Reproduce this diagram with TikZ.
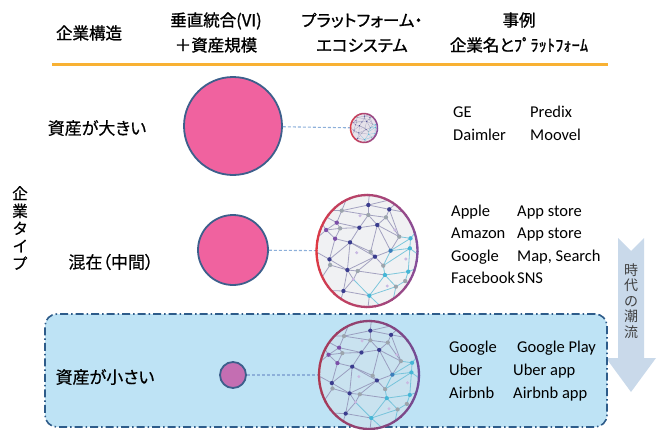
\documentclass[tikz,border=0pt]{standalone}
\usepackage{fontspec}
\setmainfont{Noto Sans CJK JP}[RawFeature=+palt]
\newfontfamily\jphead{Noto Sans CJK JP}[RawFeature=+palt, FakeBold=1.1]
\newfontfamily\jplabel{Noto Sans CJK JP}[RawFeature=+palt, FakeBold=0.5]
\newfontfamily\latinfont{Carlito}
\usetikzlibrary{shapes.geometric}

\definecolor{rulegold}{HTML}{F8B133}
\definecolor{pinkfill}{HTML}{F0629F}
\definecolor{mauve}{HTML}{C46EB2}
\definecolor{ringblue}{HTML}{3D5F8C}
\definecolor{linkblue}{HTML}{8DB0DA}
\definecolor{boxfill}{HTML}{BEE3F5}
\definecolor{boxedge}{HTML}{2E5C8A}
\definecolor{trend}{HTML}{C9D9EA}
\definecolor{trendtext}{HTML}{404040}
\definecolor{navy}{HTML}{3A3C8E}
\definecolor{violet}{HTML}{7B4FA8}
\definecolor{steel}{HTML}{3C7DBA}
\definecolor{cyanpt}{HTML}{45B6D6}
\definecolor{graypt}{HTML}{9CA5AD}
\definecolor{lilac}{HTML}{C9B9E2}
\definecolor{netgray}{HTML}{8A88B0}
\definecolor{netcyan}{HTML}{62BCD6}
\definecolor{ecofillA}{HTML}{E6E2EA}
\definecolor{ecofillB}{HTML}{F0F1F3}
\definecolor{ecofillC}{HTML}{C9E2EF}
\definecolor{ringL}{HTML}{E2383F}
\definecolor{ringR}{HTML}{7E4FA0}

% points of the network pattern (local frame, centre 201/213)
\newcommand\netpoints{%
  \foreach \pn/\px/\py in {a/205/75,b/268/88,c/110/128,d/178/143,e/232/135,
    f/78/150,g/105/176,h/150/187,i/272/212,j/225/230,k/88/238,l/142/270,
    m/332/175,n/330/205,o/130/333,p/208/347,q/125/92,r/205/105,s/258/112,
    t/120/145,u/298/170,w/212/215,x/90/255,y/173/273,z/250/257,A/288/320,
    B/316/303,C/325/275,D/255/285,E/160/298,F/150/30,G/310/50,H/20/200,
    I/40/330,J/385/110,K/390/250,Lo/270/405,M/110/400,N/40/90,O/385/350,
    P/210/20,Q/200/420,R/180/107,S/170/218,T/318/237,U/262/318,V/285/150}
    \coordinate (p-\pn) at (\px,\py);}

% network inside an ellipse with a red-to-purple rim
% #1,#2 centre, #3,#4 radii, #5 fill, #6 edge width, #7 rim width
\newcommand\econet[7]{%
  \fill[#5] (#1,#2) ellipse[x radius=#3, y radius=#4];
  \begin{scope}
    \clip (#1,#2) ellipse[x radius=#3, y radius=#4];
    \begin{scope}[shift={(#1,#2)}, xscale=#3/152, yscale=#4/168, shift={(-201,-213)}]
      \netpoints
      \foreach \na/\nb in {a/b,a/r,a/q,a/P,a/G,b/s,b/G,b/J,b/u,q/c,q/F,q/N,q/r,
        r/d,r/e,r/s,s/e,s/u,e/d,e/u,e/i,e/w,d/c,d/t,d/h,c/t,c/f,c/N,f/g,f/t,
        f/H,f/N,g/t,g/h,g/k,h/w,h/j,h/k,h/l,j/w,j/i,j/z,j/y,j/l,i/u,E/y,E/o,
        E/l,y/l,o/l,o/M,o/I,l/x,x/k,x/I,k/H,k/l,I/M,y/D,p/o,p/Q,F/P}
        \draw[netgray, opacity=0.75, line width=#6] (p-\na) -- (p-\nb);
      \foreach \na/\nb in {i/m,i/n,i/z,m/u,m/J,m/n,n/K,n/C,n/z,C/B,C/K,C/D,
        z/D,D/A,D/p,B/A,B/O,A/p,A/Lo,p/Lo,p/E}
        \draw[netcyan, opacity=0.8, line width=#6] (p-\na) -- (p-\nb);
      \foreach \pn in {E,R,S,T,U,V} \fill[lilac] (p-\pn) circle[radius=5];
      \foreach \pn in {q,r,s,t,u,w,x,y,z,A,B} \fill[graypt] (p-\pn) circle[radius=6.5];
      \foreach \pn in {a,b,d,e,h,j,k,l,o} \fill[navy] (p-\pn) circle[radius=6.5];
      \foreach \pn in {c,f,g} \fill[violet] (p-\pn) circle[radius=6.5];
      \fill[steel] (p-i) circle[radius=6.5];
      \foreach \pn in {m,n,p,C,D} \fill[cyanpt] (p-\pn) circle[radius=6.5];
    \end{scope}
  \end{scope}
  \begin{scope}[shift={(#1,#2)}]
    \foreach \a in {0,10,...,350}{%
      \pgfmathsetmacro\mixp{100-abs(\a+5-180)/1.8}%
      \draw[line width=#7, color=ringL!\mixp!ringR]
        (\a:#3 and #4) arc[start angle=\a, end angle=\a+11, x radius=#3, y radius=#4];
    }
  \end{scope}}

\begin{document}
\begin{tikzpicture}[x=1pt, y=-1pt,
  head/.style={font=\jphead\fontsize{16.5}{25}\selectfont, align=center, inner sep=0},
  rowlabel/.style={font=\jplabel\fontsize{17}{20}\selectfont, inner sep=0},
  caseitem/.style={font=\latinfont\fontsize{16.5}{20}\selectfont, anchor=base west, inner sep=0},
  asset/.style={circle, draw=ringblue, line width=1.8, inner sep=0},
  eco/.style={ellipse, inner sep=0},
  link/.style={draw=linkblue, line width=1.1, dash pattern=on 3pt off 2pt}]
\useasboundingbox (0,0) rectangle (659,429);

% heading rule
\coordinate (ruleL) at (52,64);
\coordinate (ruleR) at (608,64);
\draw[rulegold, line width=3] (ruleL) -- (ruleR);

% column headings
\node[head] (h1) at (89,33) {企業構造};
\node[head] (h2) at (216,32.5) {垂直統合(VI)\\＋資産規模};
\node[head] (h3) at (362,32.5) {プラットフォーム・\\エコシステム};
\node[head] (h4) at (519,32.5) {事例\\企業名とﾌﾟﾗｯﾄﾌｫｰﾑ};

% trend arrow
\fill[trend] (618,238) -- (631,251) -- (644,238) -- (644,358) -- (656,358)
  -- (631,392) -- (606,358) -- (618,358) -- cycle;
\node[font=\fontsize{14}{15.5}\selectfont, text=trendtext, align=center, inner sep=0]
  (trend) at (631,301) {時\\代\\の\\潮\\流};

% highlighted band for asset-light firms
\node[draw=boxedge, fill=boxfill, rounded corners=12pt, line width=1.6,
  dash pattern=on 8pt off 3pt on 1.5pt off 3pt, minimum width=562, minimum height=113,
  inner sep=0] (band) at (326,370.5) {};

% vertical type label
\node[font=\jplabel\fontsize{15.5}{17.5}\selectfont, align=center, inner sep=0]
  (type) at (20,228) {企\\業\\タ\\イ\\プ};

% asset circles
\node[asset, fill=pinkfill, minimum size=98] (assetA) at (233,126) {};
\node[asset, fill=pinkfill, minimum size=70] (assetB) at (233,250) {};
\node[asset, fill=mauve, minimum size=26] (assetC) at (233,375) {};

% platform ellipses
\node[eco, minimum width=27, minimum height=29] (ecoA) at (364,128) {};
\node[eco, minimum width=101, minimum height=112] (ecoB) at (367,251) {};
\node[eco, minimum width=100, minimum height=108] (ecoC) at (369,375) {};

\draw[link] (assetA) -- (ecoA);
\draw[link] (assetB) -- (ecoB);
\draw[link] (assetC) -- (ecoC);

\econet{364}{128}{13.5}{14.5}{ecofillA}{0.25}{1.5}
\econet{367}{251}{50.5}{56}{ecofillB}{0.8}{2.3}
\definecolor{ringL}{HTML}{B0384E}
\definecolor{ringR}{HTML}{6B4E9E}
\econet{369}{375}{50}{54}{ecofillC}{0.8}{2.3}

% row labels
\node[rowlabel] (rowA) at (97,128) {資産が大きい};
\node[rowlabel] (rowB) at (111,262) {混在（中間）};
\node[rowlabel] (rowC) at (105,377) {資産が小さい};

% example firms and their platforms
\node[caseitem] (ge) at (453,117) {GE};
\node[caseitem] (predix) at (530,117) {Predix};
\node[caseitem] (daimler) at (453,140) {Daimler};
\node[caseitem] (moovel) at (530,140) {Moovel};

\node[caseitem] (apple) at (451,216) {Apple};
\node[caseitem] (appstoreA) at (517,216) {App store};
\node[caseitem] (amazon) at (451,238.5) {Amazon};
\node[caseitem] (appstoreB) at (517,238.5) {App store};
\node[caseitem] (googleA) at (451,261) {Google};
\node[caseitem] (maps) at (517,261) {Map, Search};
\node[caseitem] (facebook) at (451,283) {Facebook};
\node[caseitem] (sns) at (517,283) {SNS};

\node[caseitem] (googleB) at (449,352) {Google};
\node[caseitem] (play) at (517,352) {Google Play};
\node[caseitem] (uber) at (449,375) {Uber};
\node[caseitem] (uberapp) at (513,375) {Uber app};
\node[caseitem] (airbnb) at (449,398) {Airbnb};
\node[caseitem] (airbnbapp) at (513,398) {Airbnb app};
\end{tikzpicture}
\end{document}
